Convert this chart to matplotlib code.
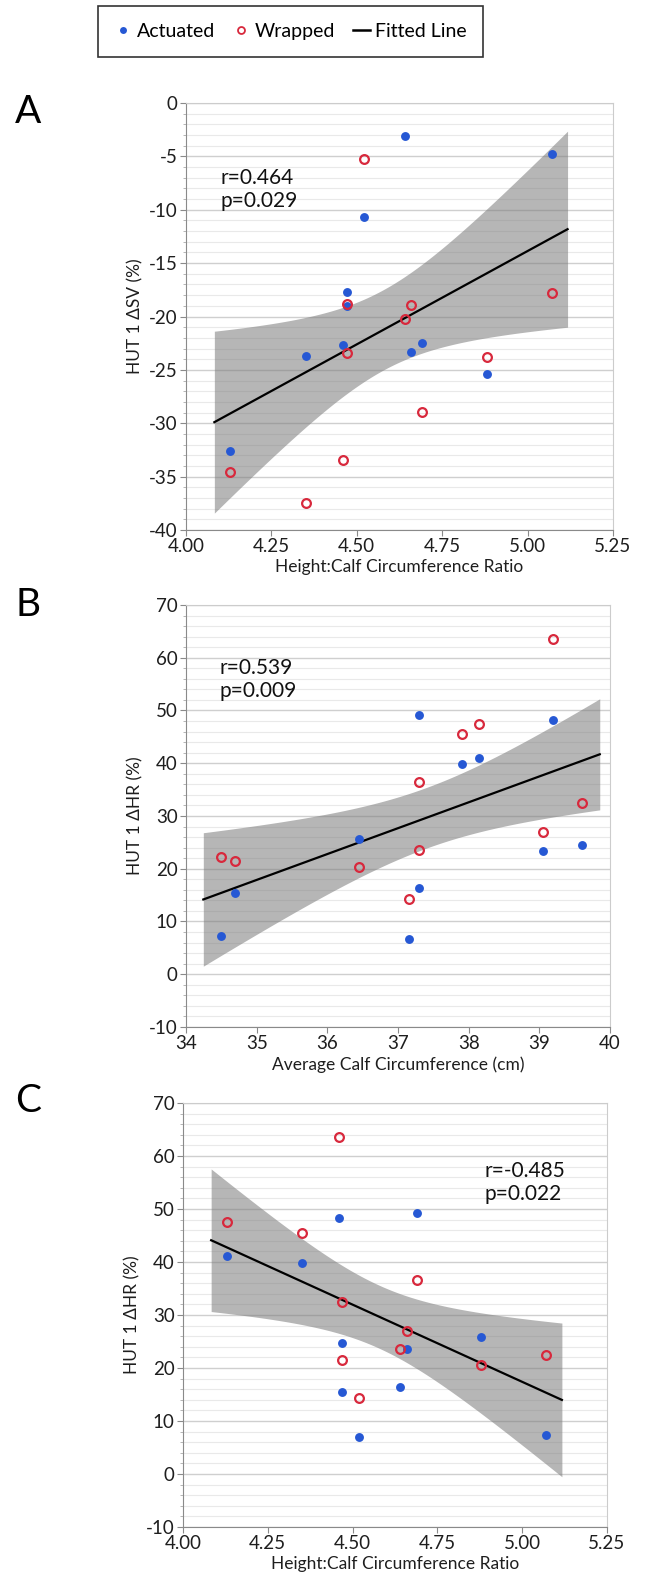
#!/usr/bin/env python3
"""
HUT 1 response vs calf anthropometry - three stacked scatter panels
with least-squares fit and 95% confidence band for the mean.
"""

import numpy as np
import matplotlib
matplotlib.use('Agg')
import matplotlib.pyplot as plt
from matplotlib.lines import Line2D
from matplotlib.ticker import MultipleLocator

plt.rcParams['font.family'] = ['Lato', 'DejaVu Sans']
plt.rcParams['axes.unicode_minus'] = False

# Panel A: height:calf ratio vs HUT 1 dSV
ratio_act_a = [4.64, 5.07, 4.52, 4.47, 4.47, 4.46, 4.35, 4.66, 4.69, 4.88, 4.13]
sv_act_a = [-3.1, -4.8, -10.7, -17.7, -19.0, -22.7, -23.7, -23.3, -22.5, -25.4, -32.6]
ratio_wrap_a = [4.52, 5.07, 4.47, 4.66, 4.64, 4.47, 4.88, 4.69, 4.46, 4.13, 4.35]
sv_wrap_a = [-5.2, -17.8, -18.8, -18.9, -20.2, -23.4, -23.8, -28.9, -33.4, -34.6, -37.5]

# Panel B: average calf circumference vs HUT 1 dHR
calf_act_b = [37.30, 39.20, 37.90, 38.15, 36.45, 39.05, 39.60, 34.70, 37.30, 34.50, 37.15]
hr_act_b = [49.1, 48.2, 39.8, 41.0, 25.7, 23.4, 24.5, 15.4, 16.4, 7.3, 6.7]
calf_wrap_b = [39.20, 38.15, 37.90, 37.30, 39.60, 39.05, 37.30, 34.50, 34.70, 36.45, 37.15]
hr_wrap_b = [63.5, 47.4, 45.5, 36.5, 32.4, 26.9, 23.5, 22.2, 21.4, 20.4, 14.2]

# Panel C: height:calf ratio vs HUT 1 dHR
ratio_act_c = [4.46, 4.69, 4.13, 4.35, 4.47, 4.66, 4.88, 4.47, 4.64, 4.52, 5.07]
hr_act_c = [48.3, 49.2, 41.2, 39.9, 24.7, 23.6, 25.8, 15.5, 16.5, 7.0, 7.4]
ratio_wrap_c = [4.46, 4.13, 4.35, 4.69, 4.47, 4.66, 4.64, 4.47, 4.52, 4.88, 5.07]
hr_wrap_c = [63.5, 47.5, 45.5, 36.6, 32.5, 27.0, 23.6, 21.5, 14.4, 20.5, 22.4]

stats_text = ['r=0.464\np=0.029', 'r=0.539\np=0.009', 'r=-0.485\np=0.022']
panel_letters = ['A', 'B', 'C']

BLUE = '#2658d4'
RED = '#d8283c'
T_CRIT = 2.086  # t(0.975, df=20)


def draw_panel(ax, xa, ya, xw, yw, xlabel, ylabel, xlim, ylim, xstep, ystep, ystep_minor):
    """Scatter both groups, fit a line over all points and shade the CI"""
    x = np.array(xa + xw)
    y = np.array(ya + yw)
    n = len(x)
    slope, intercept = np.polyfit(x, y, 1)
    resid = y - (slope * x + intercept)
    s = np.sqrt(np.sum(resid ** 2) / (n - 2))
    xbar = x.mean()
    sxx = np.sum((x - xbar) ** 2)

    span = x.max() - x.min()
    xs = np.linspace(x.min() - 0.05 * span, x.max() + 0.05 * span, 200)
    ys = slope * xs + intercept
    half = T_CRIT * s * np.sqrt(1.0 / n + (xs - xbar) ** 2 / sxx)

    ax.fill_between(xs, ys - half, ys + half, color='#7a7a7a', alpha=0.55,
                    linewidth=0, zorder=2)
    ax.plot(xs, ys, color='black', lw=1.6, zorder=3)
    ax.plot(xa, ya, 'o', color=BLUE, ms=6.4, mew=0, zorder=4)
    ax.plot(xw, yw, 'o', mfc='none', mec=RED, ms=6.3, mew=1.6, zorder=4)

    ax.set_xlim(*xlim)
    ax.set_ylim(*ylim)
    ax.xaxis.set_major_locator(MultipleLocator(xstep))
    ax.yaxis.set_major_locator(MultipleLocator(ystep))
    ax.yaxis.set_minor_locator(MultipleLocator(ystep_minor))

    ax.grid(True, axis='y', which='major', color='#cfcfcf', lw=1.0, zorder=0)
    ax.grid(True, axis='y', which='minor', color='#e9e9e9', lw=0.8, zorder=0)
    ax.set_axisbelow(True)

    for side in ['left', 'bottom']:
        ax.spines[side].set_color('#8a8a8a')
    for side in ['top', 'right']:
        ax.spines[side].set_color('#cccccc')

    ax.tick_params(axis='both', which='major', length=4, color='#8a8a8a',
                   labelsize=13.5, labelcolor='#1e1e1e', pad=2)
    ax.tick_params(axis='y', which='minor', length=2.5, color='#aaaaaa')
    ax.set_xlabel(xlabel, fontsize=12.5, color='#1e1e1e', labelpad=3)
    ax.set_ylabel(ylabel, fontsize=12.5, color='#1e1e1e', labelpad=4)


def main():
    fig = plt.figure(figsize=(6.58, 15.81), dpi=100)

    # axes boxes in pixel terms (left, top, right, bottom) -> figure fractions
    W, H = 658.0, 1581.0
    boxes = [(186, 103, 613, 530), (186, 605, 610, 1027), (183, 1103, 607, 1527)]
    axes = []
    for (l, t, r, b) in boxes:
        axes.append(fig.add_axes([l / W, 1 - b / H, (r - l) / W, (b - t) / H]))

    draw_panel(axes[0], ratio_act_a, sv_act_a, ratio_wrap_a, sv_wrap_a,
               'Height:Calf Circumference Ratio', 'HUT 1 ΔSV (%)',
               (4.0, 5.25), (-40, 0), 0.25, 5, 1)
    axes[0].xaxis.set_major_formatter(lambda v, p: f'{v:.2f}')

    draw_panel(axes[1], calf_act_b, hr_act_b, calf_wrap_b, hr_wrap_b,
               'Average Calf Circumference (cm)', 'HUT 1 ΔHR (%)',
               (34, 40), (-10, 70), 1, 10, 2)

    draw_panel(axes[2], ratio_act_c, hr_act_c, ratio_wrap_c, hr_wrap_c,
               'Height:Calf Circumference Ratio', 'HUT 1 ΔHR (%)',
               (4.0, 5.25), (-10, 70), 0.25, 10, 2)
    axes[2].xaxis.set_major_formatter(lambda v, p: f'{v:.2f}')

    # r / p annotations
    text_pos = [(0.08, 0.848), (0.08, 0.875), (0.712, 0.863)]
    for ax, txt, (tx, ty) in zip(axes, stats_text, text_pos):
        ax.text(tx, ty, txt, transform=ax.transAxes, fontsize=15,
                va='top', ha='left', linespacing=1.2, color='#111111', zorder=5)

    # panel letters
    letter_y = [112, 605, 1101]
    for letter, ly in zip(panel_letters, letter_y):
        fig.text(28 / W, 1 - ly / H, letter, fontsize=28, ha='center', va='center')

    # shared legend on top
    handles = [
        Line2D([], [], ls='none', marker='o', color=BLUE, ms=5, mew=0),
        Line2D([], [], ls='none', marker='o', mfc='none', mec=RED, ms=5, mew=1.3),
        Line2D([], [], color='black', lw=1.8),
    ]
    leg = fig.legend(handles, ['Actuated', 'Wrapped', 'Fitted Line'],
                     loc='center', bbox_to_anchor=(290.5 / W, 1 - 31.5 / H),
                     ncol=3, fontsize=14, frameon=True, fancybox=False,
                     handlelength=0.9, handletextpad=0.25, columnspacing=0.9,
                     borderpad=0.85)
    leg.get_frame().set_edgecolor('black')
    leg.get_frame().set_linewidth(1.2)

    fig.savefig('out.png', dpi=100)


if __name__ == "__main__":
    main()
